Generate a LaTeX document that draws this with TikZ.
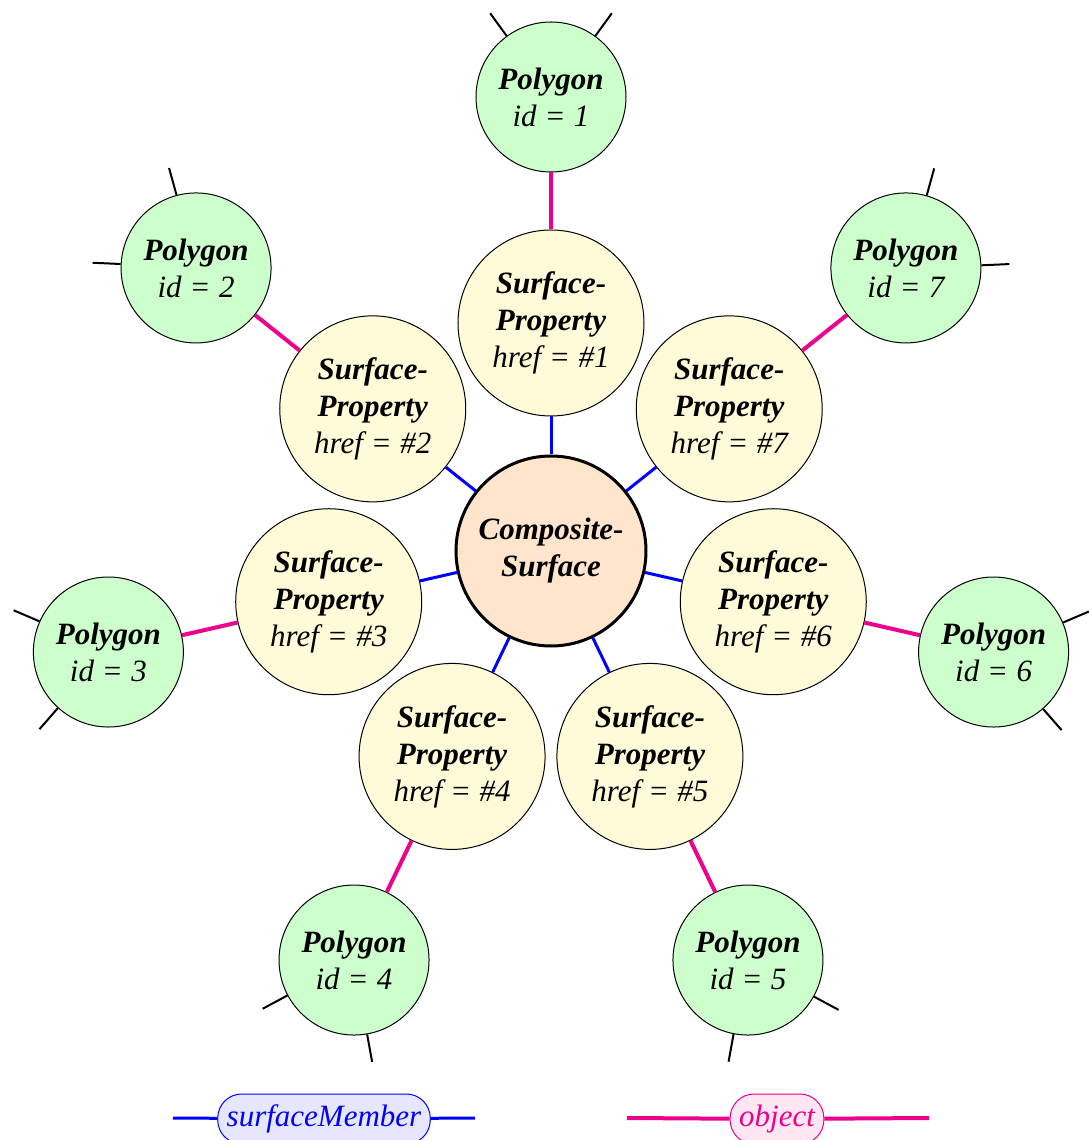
\documentclass[tikz,border=0pt]{standalone}
\usepackage{fontspec}
\setmainfont{Liberation Serif}
\definecolor{polyfill}{RGB}{204,255,204}
\definecolor{propfill}{RGB}{255,251,216}
\definecolor{compfill}{RGB}{255,229,204}
\definecolor{objline}{RGB}{236,0,140}
\definecolor{memberfill}{RGB}{230,230,255}
\definecolor{objfill}{RGB}{255,230,242}
\newcommand{\eqsign}{\hspace{0.32em}{\upshape =}\hspace{0.32em}}
\tikzset{
  txt/.style={align=center, inner sep=0pt, font=\fontsize{15.5}{18.5}\selectfont\itshape},
  polygon/.style={txt, circle, draw, line width=0.5pt, fill=polyfill, minimum size=75pt},
  prop/.style={txt, circle, draw, line width=0.5pt, fill=propfill, minimum size=93pt},
  comp/.style={txt, circle, draw, line width=1.5pt, fill=compfill, minimum size=95pt},
  member/.style={blue, line width=1.5pt},
  objlink/.style={objline, line width=2pt},
  stub/.style={black, line width=1pt},
  legend/.style={txt, draw, line width=0.5pt, rounded corners=12pt,
    minimum height=25pt, inner xsep=4.5pt},
}
\begin{document}
\begin{tikzpicture}[x=0.5pt,y=0.5pt]
\useasboundingbox (-551,-589) rectangle (537,551);

\node[comp] (cs) at (0,0) {\textbf{Composite-}\\\textbf{Surface}};

\foreach \i in {1,...,7} {
  \pgfmathsetmacro\a{90+(\i-1)*360/7}
  \pgfmathsetmacro\b{\a+36}
  \pgfmathsetmacro\c{\a-36}
  \node[prop] (sp\i) at (\a:228)
    {\textbf{Surface-}\\\textbf{Property}\\href\eqsign\#\i};
  \node[polygon] (p\i) at (\a:454)
    {\textbf{Polygon}\\id\eqsign\i};
  \draw[member] (cs) -- (sp\i);
  \draw[objlink] (sp\i) -- (p\i);
  \draw[stub] (p\i.\b) -- ++(\b:28);
  \draw[stub] (p\i.\c) -- ++(\c:28);
}

% legend
\coordinate (ma) at (-378,-567);
\coordinate (mb) at (-76,-567);
\node[legend, blue, fill=memberfill, text=blue] (memb) at (-227,-568) {surfaceMember};
\draw[member] (ma) -- (memb);
\draw[member] (memb) -- (mb);

\coordinate (oa) at (76,-567);
\coordinate (ob) at (378,-567);
\node[legend, draw=objline, fill=objfill, text=objline] (obj) at (226,-568) {object};
\draw[objlink] (oa) -- (obj);
\draw[objlink] (obj) -- (ob);
\end{tikzpicture}
\end{document}
